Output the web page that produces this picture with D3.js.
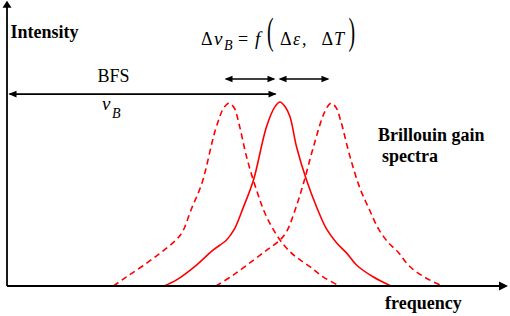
<!DOCTYPE html>
<html>
<head>
<meta charset="utf-8">
<script src="https://cdn.jsdelivr.net/npm/d3@7"></script>
<style>
  body { margin: 0; background: #fff; }
</style>
</head>
<body>
<div id="chart"></div>
<script>
// frequency (arbitrary units) vs normalised Brillouin gain
const referenceSpectrum = [
  [31.2, 0], [33.7, 0.033], [37.7, 0.114], [41.0, 0.195], [43.7, 0.25], [45.3, 0.31],
  [47.1, 0.43], [49.1, 0.576], [51.7, 0.866], [53.4, 0.975], [54.4, 1.0], [55.4, 0.975],
  [56.4, 0.92], [57.7, 0.757], [59.7, 0.576], [61.7, 0.431], [63.7, 0.31], [65.7, 0.235],
  [67.7, 0.18], [69.7, 0.114], [73.0, 0.05], [76.6, 0]
];
const downShiftedSpectrum = [
  [21.1, 0], [23.7, 0.05], [27.0, 0.11], [30.4, 0.178], [33.2, 0.24], [34.8, 0.29],
  [36.7, 0.42], [38.8, 0.56], [41.5, 0.85], [43.2, 0.97], [44.2, 0.993], [45.2, 0.97],
  [46.3, 0.87], [47.7, 0.703], [49.7, 0.522], [51.7, 0.377], [54.4, 0.25], [56.4, 0.186],
  [58.0, 0.15], [60.4, 0.105], [63.0, 0.05], [66.3, 0]
];
const upShiftedSpectrum = [
  [41.6, 0], [45.1, 0.06], [49.1, 0.141], [52.0, 0.2], [54.4, 0.25], [55.8, 0.3],
  [57.5, 0.42], [59.1, 0.558], [61.1, 0.757], [63.4, 0.95], [64.6, 0.993], [65.6, 0.97],
  [66.5, 0.902], [68.4, 0.703], [70.4, 0.53], [72.2, 0.42], [74.1, 0.31], [76.1, 0.235],
  [78.0, 0.185], [80.2, 0.11], [83.5, 0.045], [86.9, 0]
];

(function () {
  const width = 510, height = 316;

  const xScale = d3.scaleLinear().domain([-0.2, 100]).range([7, 508]);
  const yScale = d3.scaleLinear().domain([0, 1.55]).range([286, 0.8]);

  const svg = d3.select("#chart")
    .append("svg")
    .attr("width", width)
    .attr("height", height)
    .attr("font-family", "'Liberation Serif', Tinos, 'DejaVu Serif', 'Times New Roman', serif");

  const line = d3.line()
    .x(d => xScale(d[0]))
    .y(d => yScale(d[1]))
    .curve(d3.curveCatmullRom.alpha(0.5));

  // spectra
  const spectra = [
    { data: downShiftedSpectrum, dash: "6,4" },
    { data: upShiftedSpectrum, dash: "6,4" },
    { data: referenceSpectrum, dash: null }
  ];
  svg.selectAll("path.spectrum")
    .data(spectra)
    .join("path")
    .attr("class", "spectrum")
    .attr("d", d => line(d.data))
    .attr("fill", "none")
    .attr("stroke", "#ff0000")
    .attr("stroke-width", 1.6)
    .attr("stroke-dasharray", d => d.dash);

  // little filled triangle for arrow ends
  function head(x, y, dir, len, half) {
    let p;
    if (dir === "r") p = [[x, y], [x - len, y - half], [x - len, y + half]];
    else if (dir === "l") p = [[x, y], [x + len, y - half], [x + len, y + half]];
    else p = [[x, y], [x - half, y + len], [x + half, y + len]];
    svg.append("path")
      .attr("d", "M" + p.join("L") + "Z")
      .attr("fill", "#000");
  }
  function hline(x1, x2, y, w) {
    svg.append("line")
      .attr("x1", x1).attr("x2", x2)
      .attr("y1", y).attr("y2", y)
      .attr("stroke", "#000")
      .attr("stroke-width", w);
  }

  // axes
  const x0 = xScale(-0.2), y0 = yScale(0);
  hline(x0, xScale(100) - 4, y0, 1.8);
  head(xScale(100), y0, "r", 9, 4.5);
  svg.append("line")
    .attr("x1", x0).attr("x2", x0)
    .attr("y1", y0).attr("y2", yScale(1.55) + 4)
    .attr("stroke", "#000")
    .attr("stroke-width", 1.8);
  head(x0, yScale(1.55), "u", 7, 4.5);

  // BFS arrow from origin to the reference peak
  const bfsY = yScale(1.043);
  hline(xScale(0.3), xScale(53.5), bfsY, 1.6);
  head(xScale(0.1), bfsY, "l", 8, 3.3);
  head(xScale(53.7), bfsY, "r", 8, 3.3);

  // shift arrows
  const shiftY = yScale(1.125);
  [[43.3, 53.5], [54.1, 64.3]].forEach(s => {
    hline(xScale(s[0]) + 2, xScale(s[1]) - 2, shiftY, 1.6);
    head(xScale(s[0]), shiftY, "l", 8, 3.3);
    head(xScale(s[1]), shiftY, "r", 8, 3.3);
  });

  // labels
  function label(txt, x, y, size, opts) {
    opts = opts || {};
    return svg.append("text")
      .attr("x", x).attr("y", y)
      .attr("font-size", size)
      .attr("font-weight", opts.bold ? "bold" : null)
      .attr("font-style", opts.italic ? "italic" : null)
      .text(txt);
  }
  label("Intensity", 10.5, 37.5, 18, { bold: true });
  label("frequency", 385, 309, 18, { bold: true });
  label("Brillouin gain", 378, 141, 18, { bold: true });
  label("spectra", 382, 161.5, 18, { bold: true });
  label("BFS", 97.5, 81.5, 18);
  label("v", 102, 110, 19, { italic: true });
  label("B", 112, 117.5, 14, { italic: true });

  // Δv_B = f(Δε, ΔT)
  label("\u0394", 201, 44.5, 18);
  label("v", 214, 44.5, 19, { italic: true });
  label("B", 224, 50, 14, { italic: true });
  label("=", 238, 44.5, 18);
  label("f", 255, 44.5, 19, { italic: true });
  label("\u0394", 280, 44.5, 18);
  label("\u03b5", 293, 44.5, 18, { italic: true });
  label(",", 302, 44.5, 18);
  label("\u0394", 321.5, 44.5, 18);
  label("T", 334, 44.5, 18, { italic: true });
  svg.append("text")
    .attr("transform", "translate(267,44.4) scale(1.1,2.1)")
    .attr("font-size", 18)
    .text("(");
  svg.append("text")
    .attr("transform", "translate(348.5,44.4) scale(1.1,2.1)")
    .attr("font-size", 18)
    .text(")");
})();
</script>
</body>
</html>
